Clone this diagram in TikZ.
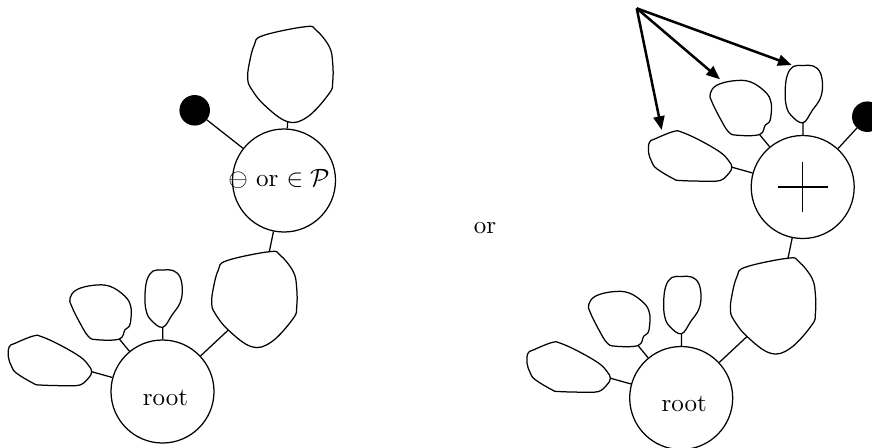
\documentclass[tikz,border=0pt]{standalone}
\usetikzlibrary{arrows.meta}
\tikzset{
  conn/.style={line width=0.5pt},
  blobline/.style={draw, line width=0.5pt, line join=round},
  circ/.style={circle, draw, line width=0.5pt, minimum size=41.2pt, inner sep=0pt},
  bdot/.style={circle, fill=black, draw=black, minimum size=11.8pt, inner sep=0pt},
  ptr/.style={line width=1pt, -{Triangle[length=5.5pt,width=4.4pt]}},
  bigblob/.pic={\draw[blobline] plot[smooth cycle, tension=0.65] coordinates {(0,0) (-42.6,9) (-51,18.3) (-56,36.6) (-57.6,51.6) (-54.3,61.6) (-41,78.3) (-17.6,95) (2.4,90) (24,66.6) (27.4,55) (27.4,36.6) (24,20) (10.7,3.3)};},
  medblob/.pic={\draw[blobline] plot[smooth cycle, tension=0.65] coordinates {(0,0) (5.7,-9.3) (10,-12.7) (11.7,-21) (11.4,-32.7) (5.7,-42.7) (-9.3,-52.7) (-26,-53.7) (-42.6,-49.3) (-49.3,-41) (-47.6,-32.7) (-39.3,-16) (-31,-2.7) (-22.6,0.7)};},
  tallblob/.pic={\draw[blobline] plot[smooth cycle, tension=0.65] coordinates {(0,0) (9.3,-12.3) (17.3,-24.3) (19.6,-37.3) (17.3,-50.3) (10.3,-56.8) (0.3,-57.3) (-9.7,-56.3) (-15.7,-47.3) (-17.7,-32.3) (-16.7,-17.3) (-11.7,-7.3)};},
  leftblob/.pic={\draw[blobline] plot[smooth cycle, tension=0.65] coordinates {(0,0) (-3.4,6.6) (-11.7,13.3) (-25,14) (-51.7,13.3) (-58.4,11.6) (-75,1.6) (-80,-5) (-83.4,-15) (-82.4,-25) (-76.7,-28.4) (-58.4,-35.7) (-50,-35) (-31.7,-26.7) (-11.7,-15) (-3.4,-6.7)};}
}
% three small blobs around the circle node #1 (origin = its centre)
\newcommand\smallblobs[1]{%
  \coordinate (#1L) at (-70.8,-19.8);
  \coordinate (#1M) at (-43.2,-52.5);
  \coordinate (#1B) at (0.2,-64.2);
  \pic at (#1L) {leftblob};
  \pic at (#1M) {medblob};
  \pic at (#1B) {tallblob};
  \draw[conn] (#1) -- (#1L);
  \draw[conn] (#1) -- (#1M);
  \draw[conn] (#1) -- (#1B);
}
% root, its blobs, the big blob and the upper circle (#1 prefix)
\newcommand\lowerpart[1]{%
  \begin{scope}[shift={(162.5,391.5)}]
    \node[circ] (#1r) at (0,0) {};
    \node[anchor=base] (#1rt) at (3,13.5) {root};
    \smallblobs{#1r}
  \end{scope}
  \coordinate (#1A) at (269.3,251.7);
  \pic at (#1A) {bigblob};
  \coordinate (#1Ac) at (228.3,330);
  \draw[conn] (#1r) -- (#1Ac);
  \node[circ] (#1u) at (284,180.5) {};
  \draw[conn] (#1u) -- (#1A);
}
\begin{document}
\begin{tikzpicture}[x=0.4pt, y=-0.4pt]
  \useasboundingbox (0,0) rectangle (872,447);
  \clip (0,0) rectangle (872,447);
  % ---- left picture ----
  \lowerpart{l}
  \node[anchor=base] (lut) at (279,186.7) {$\ominus$ or $\in\mathcal{P}$};
  \coordinate (lT) at (305.3,26.7);
  \pic at (lT) {bigblob};
  \coordinate (lTc) at (287.7,121.7);
  \draw[conn] (lu) -- (lTc);
  \node[bdot] (ld) at (194.7,110.3) {};
  \draw[conn] (ld) -- (lu);
  % ---- or ----
  \node[anchor=base] (or) at (485,233.3) {or};
  % ---- right picture ----
  \begin{scope}[shift={(518.7,6.5)}]
    \lowerpart{r}
    \begin{scope}[shift={(284,180.5)}]
      \smallblobs{ru}
    \end{scope}
  \end{scope}
  \draw[conn] ([xshift=-10pt]ru.center) -- ([xshift=10pt]ru.center);
  \draw[conn] ([yshift=-10pt]ru.center) -- ([yshift=10pt]ru.center);
  \node[bdot] (rd) at (867.3,116.7) {};
  \draw[conn] (rd) -- (ru);
  % ---- arrows ----
  \coordinate (src) at (636.7,8.3);
  \coordinate (t1) at (661.7,130);
  \coordinate (t2) at (720,79.3);
  \coordinate (t3) at (791.7,65);
  \draw[ptr] (src) -- (t1);
  \draw[ptr] (src) -- (t2);
  \draw[ptr] (src) -- (t3);
\end{tikzpicture}
\end{document}
